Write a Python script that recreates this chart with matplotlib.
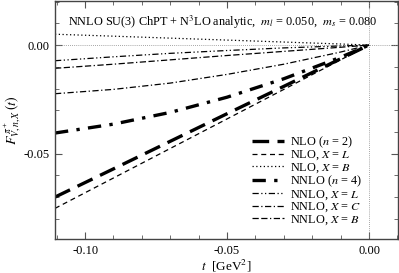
import matplotlib
matplotlib.use("Agg")
import matplotlib.pyplot as plt
from matplotlib.ticker import MultipleLocator, FormatStrFormatter

plt.rcParams['font.family'] = ['Liberation Serif', 'DejaVu Serif']
plt.rcParams['mathtext.fontset'] = 'stix'

t = [-0.1106, -0.09, -0.07, -0.05, -0.03, -0.01, 0.0]
nlo_n2 = [-0.0700, -0.0570, -0.0443, -0.0316, -0.0190, -0.0063, 0.0]
nlo_L = [-0.0752, -0.0612, -0.0476, -0.0340, -0.0204, -0.0068, 0.0]
nlo_B = [0.0050, 0.0041, 0.0032, 0.0023, 0.0014, 0.0005, 0.0]
nnlo_n4 = [-0.0405, -0.0364, -0.0310, -0.0240, -0.0155, -0.0056, 0.0]
nnlo_L = [-0.0072, -0.0054, -0.0038, -0.0025, -0.0013, -0.0004, 0.0]
nnlo_C = [-0.0224, -0.0204, -0.0175, -0.0135, -0.0088, -0.0032, 0.0]
nnlo_B = [-0.0107, -0.0088, -0.0068, -0.0048, -0.0029, -0.0010, 0.0]

labels = ["NLO ($n$ = 2)", "NLO, $X$ = $L$", "NLO, $X$ = $B$", "NNLO ($n$ = 4)",
          "NNLO, $X$ = $L$", "NNLO, $X$ = $C$", "NNLO, $X$ = $B$"]

fig = plt.figure(figsize=(3.99, 2.73), dpi=100)
ax = fig.add_axes([55/399, 34/273, (398-55)/399, (239-1)/273])

ax.axhline(0, color='#888888', lw=0.6, ls=(0, (1, 1.5)))
ax.axvline(0, color='#888888', lw=0.6, ls=(0, (1, 1.5)))

ax.plot(t, nlo_n2, color='black', lw=2.4, ls=(0, (5, 2.5)), label=labels[0])
ax.plot(t, nlo_L, color='black', lw=0.9, ls=(0, (4, 3)), label=labels[1])
ax.plot(t, nlo_B, color='black', lw=0.9, ls=(0, (1, 2)), label=labels[2])
ax.plot(t, nnlo_n4, color='black', lw=2.4, ls=(0, (4, 2.5, 1, 2.5)), label=labels[3])
ax.plot(t, nnlo_L, color='black', lw=0.9, ls=(0, (5, 2, 1, 2, 1, 2)), label=labels[4])
ax.plot(t, nnlo_C, color='black', lw=0.9, ls=(0, (5, 2, 1, 2)), label=labels[5])
ax.plot(t, nnlo_B, color='black', lw=0.9, ls=(0, (5, 2, 5, 2, 1, 2)), label=labels[6])

ax.set_xlim(-0.1106, 0.0102)
ax.set_ylim(-0.0893, 0.0203)
ax.xaxis.set_major_locator(MultipleLocator(0.05))
ax.xaxis.set_minor_locator(MultipleLocator(0.01))
ax.yaxis.set_major_locator(MultipleLocator(0.05))
ax.yaxis.set_minor_locator(MultipleLocator(0.01))
ax.xaxis.set_major_formatter(FormatStrFormatter('%.2f'))
ax.yaxis.set_major_formatter(FormatStrFormatter('%.2f'))
ax.tick_params(which='both', direction='in', top=True, right=True, labelsize=9, color='#555555')
ax.tick_params(which='major', length=5, pad=4)
ax.tick_params(which='minor', length=3)
for s in ax.spines.values():
    s.set_linewidth(1.0)
    s.set_color('#444444')

ax.set_xlabel(r"$t$  [GeV$^2$]", fontsize=9.5, labelpad=1)
ax.set_ylabel(r"$F^{\,\pi^+}_{V,n,X}\,(t)$", fontsize=10, labelpad=0)

ax.text(0.49, 0.91, r"NNLO SU(3) ChPT + N$^3$LO analytic,  $m_l$ = 0.050,  $m_s$ = 0.080",
        transform=ax.transAxes, ha='center', va='center', fontsize=8.8)

ax.legend(loc='lower right', frameon=False, fontsize=8.8, handlelength=2.6,
          handletextpad=0.5, labelspacing=-0.08, borderaxespad=0.6,
          bbox_to_anchor=(0.93, 0.0))

fig.savefig("out.png", dpi=100)
